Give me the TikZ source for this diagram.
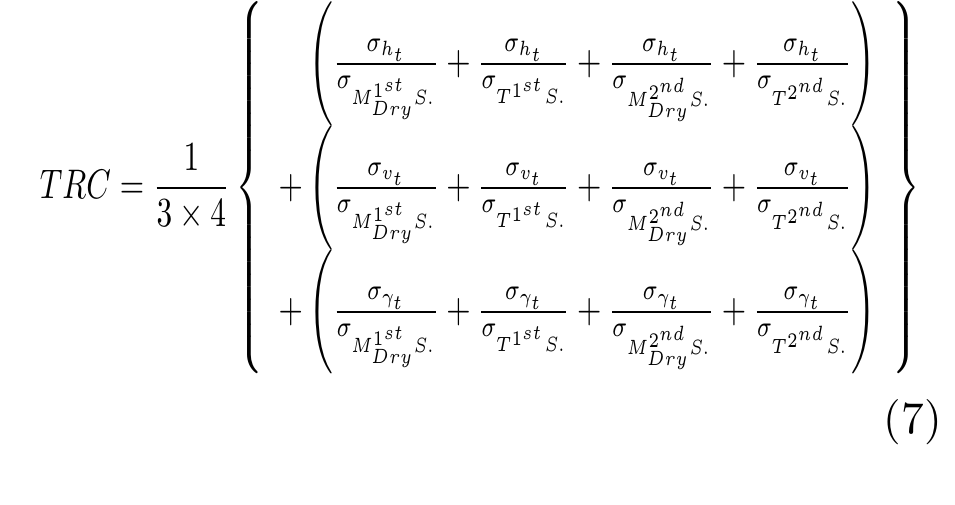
\documentclass[tikz,border=0pt]{standalone}
\usepackage{amsmath}
\tikzset{eq/.style={inner sep=0pt,anchor=center}}
\newcommand{\rowf}[1]{\left(\frac{\sigma_{#1}}{\sigma_{M_{Dry}^{1^{st}}S.}}+\frac{\sigma_{#1}}{\sigma_{T^{1^{st}}S.}}+\frac{\sigma_{#1}}{\sigma_{M_{Dry}^{2^{nd}}S.}}+\frac{\sigma_{#1}}{\sigma_{T^{2^{nd}}S.}}\right)}
\begin{document}
\begin{tikzpicture}[x=1pt,y=1pt]
\useasboundingbox (0,0) rectangle (955,504);
\node[eq] (eqn) at (480,316) {\resizebox*{880pt}{372pt}{$\displaystyle TRC=\frac{1}{3\times4}\left\{\begin{array}{l}
\phantom{+}\rowf{h_t}\\[0pt]
+\rowf{v_t}\\[0pt]
+\rowf{\gamma_t}
\end{array}\right\}$}};
\node[eq,anchor=east] (num) at (942,82) {\resizebox{!}{34pt}{(7)}};
\end{tikzpicture}
\end{document}
